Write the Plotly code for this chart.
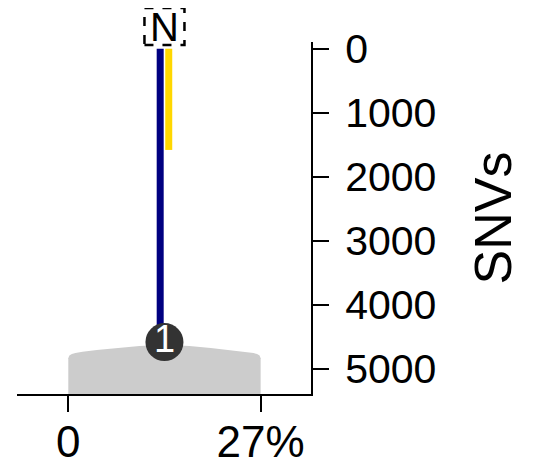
import plotly.graph_objects as go

# ---- data ----
clone_labels = ["N"]
blue_x = [12.9, 12.9]
blue_snvs = [0, 4580]
yellow_x = [14.1, 14.1]
yellow_snvs = [0, 1580]
node_x = [13.5]
node_snvs = [4580]
node_text = ["1"]
cluster_x = [0, 0, 0.15, 0.5, 1, 2, 4, 7, 10, 13.5, 17, 20, 23, 25, 26, 26.5, 26.85, 27, 27]
cluster_snvs = [5390, 4830, 4790, 4765, 4750, 4730, 4705, 4670, 4640, 4620, 4640, 4670, 4705, 4730,
                4750, 4765, 4790, 4830, 5390]
x_tickvals = [0, 27]
x_ticktext = ["0", "27%"]
y_tickvals = [0, 1000, 2000, 3000, 4000, 5000]
y_ticktext = ["0", "1000", "2000", "3000", "4000", "5000"]

FONT = "Liberation Sans, Arial, sans-serif"

fig = go.Figure()
fig.add_trace(go.Scatter(x=cluster_x, y=cluster_snvs, mode="lines", fill="toself",
                         fillcolor="#cccccc", line=dict(width=0, color="#cccccc"),
                         hoverinfo="skip", showlegend=False))
fig.add_trace(go.Scatter(x=yellow_x, y=yellow_snvs, mode="lines",
                         line=dict(color="#ffd700", width=7), showlegend=False))
fig.add_trace(go.Scatter(x=blue_x, y=blue_snvs, mode="lines",
                         line=dict(color="#000080", width=7), showlegend=False))
fig.add_trace(go.Scatter(x=node_x, y=node_snvs, mode="markers+text", text=node_text,
                         textposition="middle center",
                         textfont=dict(color="white", size=38, family=FONT),
                         marker=dict(size=38, color="#333333", line=dict(width=0)),
                         cliponaxis=False, showlegend=False))

# root label box (dashed)
fig.add_shape(type="rect", xref="x", yref="paper", xsizemode="pixel", ysizemode="pixel",
              xanchor=node_x[0], yanchor=1, x0=-20, x1=20, y0=-3, y1=34,
              line=dict(color="black", width=2.5, dash="dash"), fillcolor="white", layer="above")
fig.add_annotation(x=node_x[0], xref="x", y=1, yref="paper", text=clone_labels[0], showarrow=False,
                   yanchor="middle", yshift=15, font=dict(size=40, color="black", family=FONT))

fig.update_layout(
    width=533, height=468,
    margin=dict(l=9, r=230, t=34, b=82, autoexpand=False),
    plot_bgcolor="white", paper_bgcolor="white",
    font=dict(family=FONT, color="black"),
    xaxis=dict(range=[-7.2, 34.07], tickvals=x_tickvals, ticktext=x_ticktext,
               showline=True, linecolor="black", linewidth=2,
               ticks="outside", ticklen=16, tickwidth=2, tickcolor="black",
               showgrid=False, zeroline=False, tickfont=dict(size=44), automargin=False,
               ticklabelstandoff=-8),
    yaxis=dict(range=[5390, -105], side="right", tickvals=y_tickvals, ticktext=y_ticktext,
               showline=True, linecolor="black", linewidth=2,
               ticks="outside", ticklen=16, tickwidth=2, tickcolor="black",
               showgrid=False, zeroline=False, tickfont=dict(size=41), automargin=False,
               ticklabelstandoff=8,
               title=dict(text="SNVs", font=dict(size=52), standoff=39)),
)

fig.write_html("out.html")
